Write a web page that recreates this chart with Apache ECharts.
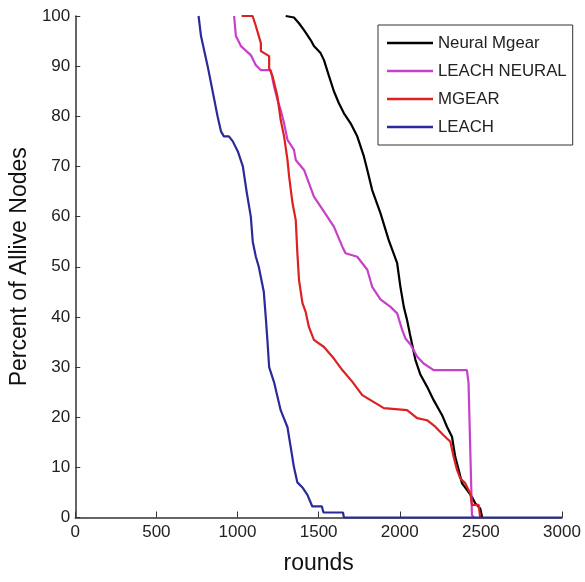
<!DOCTYPE html>
<html>
<head>
<meta charset="utf-8">
<script src="https://cdn.jsdelivr.net/npm/echarts@6/dist/echarts.min.js"></script>
<style>html,body{margin:0;padding:0;background:#fff;}#c{width:585px;height:582px;}</style>
</head>
<body>
<div id="c"></div>
<script>
var seriesNames = ['Neural Mgear', 'LEACH NEURAL', 'MGEAR', 'LEACH'];
var xTicks = [0, 500, 1000, 1500, 2000, 2500, 3000];

var neuralMgearRounds = [1297,1348,1380,1410,1451,1471,1512,1533,1564,1594,1625,1656,1697,1738,1779,1800,1830,1881,1932,1984,2004,2025,2045,2062,2096,2127,2168,2209,2261,2291,2322,2342,2363,2384,2414,2445,2466,2496,2508];
var neuralMgearPct = [100,99.7,98.5,97.2,95.2,94,92.6,91.2,88,85,82.6,80.6,78.6,76,72,69.3,65.3,60.7,55.3,50.7,46,42,39.4,36.7,31.5,28.5,26.1,23.4,20.4,18.1,16.1,12.1,9.5,6.8,5.5,4.1,2.8,1.8,0];

var leachNeuralRounds = [979,990,1021,1082,1113,1144,1205,1225,1246,1266,1287,1308,1348,1359,1410,1471,1533,1594,1646,1666,1738,1800,1830,1881,1943,1984,2015,2035,2066,2107,2147,2209,2414,2424,2445,2456];
var leachNeuralPct = [100,96,94,92.2,90.2,89.2,89.2,86,83.3,81.3,78.6,75.3,73.3,71.3,69.3,64,61,58,54,52.7,52,49.4,46,43.5,42,40.7,37.4,35.7,34.5,32.1,30.7,29.4,29.4,26.8,0.5,0];

var mgearRounds = [1025,1093,1113,1144,1144,1195,1195,1216,1246,1266,1287,1308,1318,1339,1359,1369,1379,1400,1420,1440,1471,1533,1594,1646,1707,1769,1820,1902,2045,2107,2168,2219,2270,2312,2332,2353,2373,2404,2435,2445,2486,2496];
var mgearPct = [100,100,98,94.6,93,92,89.6,88,84,79.3,76,71.3,68,62.7,59.3,52.7,47.4,42.8,41,38,35.4,34,31.7,29.4,27.1,24.4,23.4,21.8,21.4,19.8,19.4,18.1,16.4,15.1,12.1,9.5,7.8,6.8,4.8,2.5,2.5,0];

var leachRounds = [760,775,816,877,898,916,947,971,1002,1033,1056,1082,1094,1113,1131,1162,1174,1185,1195,1225,1266,1308,1328,1348,1369,1400,1431,1461,1520,1530,1650,1656,3000];
var leachPct = [100,96,90,80,77,76,76,75,73,70,65,60,55,52,50,45,40,35,30,27,21.4,18,14,10,7,6,4.5,2.2,2.2,1,1,0,0];

var colors = ['#000000', '#c840c8', '#dd2020', '#2a2a9a'];

function zip(xs, ys) { return xs.map(function (x, i) { return [x, ys[i]]; }); }
var allData = [
  zip(neuralMgearRounds, neuralMgearPct),
  zip(leachNeuralRounds, leachNeuralPct),
  zip(mgearRounds, mgearPct),
  zip(leachRounds, leachPct)
];

var font = 'Liberation Sans, Arial, sans-serif';
var chart = echarts.init(document.getElementById('c'), null, {renderer: 'canvas'});
chart.setOption({
  animation: false,
  backgroundColor: '#ffffff',
  grid: {left: 74, right: 23, top: 16, bottom: 64.5},
  legend: {
    data: seriesNames.map(function (n) { return {name: n, icon: 'rect'}; }),
    orient: 'vertical',
    left: 378, top: 25,
    padding: [9, 6, 9, 9],
    itemWidth: 46, itemHeight: 2.5, itemGap: 10,
    borderColor: '#333', borderWidth: 1,
    backgroundColor: '#fff',
    textStyle: {fontFamily: font, fontSize: 16.8, color: '#222', lineHeight: 18}
  },
  xAxis: {
    type: 'value', min: 0, max: 3000, interval: 500,
    name: 'rounds', nameLocation: 'middle', nameGap: 35,
    nameTextStyle: {fontFamily: font, fontSize: 23, color: '#111'},
    axisLine: {show: true, lineStyle: {color: '#333', width: 1.5}},
    axisTick: {show: true, inside: true, length: 6, lineStyle: {color: '#333'}},
    axisLabel: {fontFamily: font, fontSize: 17, color: '#222', margin: 6,
      formatter: function (v) { return xTicks.indexOf(v) >= 0 ? String(v) : ''; }},
    splitLine: {show: false}
  },
  yAxis: {
    type: 'value', min: 0, max: 100, interval: 10,
    name: 'Percent of Allive Nodes', nameLocation: 'middle', nameGap: 40, nameRotate: 90,
    nameTextStyle: {fontFamily: font, fontSize: 23, color: '#111'},
    axisLine: {show: true, lineStyle: {color: '#333', width: 1.5}},
    axisTick: {show: true, inside: true, length: 5, lineStyle: {color: '#333'}},
    axisLabel: {fontFamily: font, fontSize: 17, color: '#222', margin: 5},
    splitLine: {show: false}
  },
  series: seriesNames.map(function (n, i) {
    return {
      name: n, type: 'line', data: allData[i],
      symbol: 'none', showSymbol: false, clip: false,
      color: colors[i],
      itemStyle: {color: colors[i]},
      lineStyle: {color: colors[i], width: 2.2},
      z: 2 + i
    };
  })
});
</script>
</body>
</html>
